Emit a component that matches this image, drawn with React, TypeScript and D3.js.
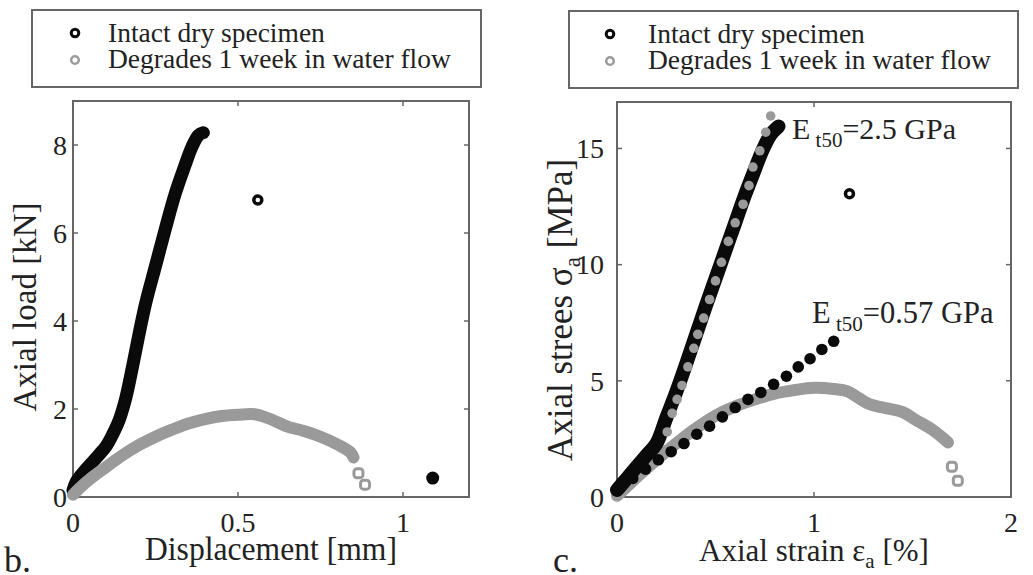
import React from 'react';
import * as d3 from 'd3';

// ---------- Data ----------
// Panel b: Displacement [mm] vs Axial load [kN]
const bXTicks = [0, 0.5, 1];
const bXTickLabels = ['0', '0.5', '1'];
const bYTicks = [0, 2, 4, 6, 8];
const bYTickLabels = ['0', '2', '4', '6', '8'];

const bIntact: [number, number][] = [
  [0, 0.15], [0.01, 0.35], [0.03, 0.55], [0.05, 0.72], [0.08, 0.97], [0.1, 1.15],
  [0.12, 1.42], [0.14, 1.75], [0.16, 2.25], [0.18, 2.95], [0.2, 3.7], [0.22, 4.4],
  [0.25, 5.25], [0.28, 6.1], [0.31, 6.9], [0.34, 7.55], [0.36, 7.95], [0.38, 8.22], [0.395, 8.28],
];
const bIntactOutlier: [number, number][] = [[0.56, 6.75]];
const bIntactFinal: [number, number][] = [[1.09, 0.43]];

const bDegraded: [number, number][] = [
  [0, 0.05], [0.02, 0.2], [0.05, 0.4], [0.1, 0.68], [0.15, 0.95], [0.2, 1.18],
  [0.25, 1.37], [0.3, 1.53], [0.35, 1.67], [0.4, 1.77], [0.45, 1.84], [0.5, 1.87],
  [0.55, 1.88], [0.58, 1.82], [0.62, 1.7], [0.65, 1.6], [0.7, 1.5], [0.75, 1.37],
  [0.8, 1.2], [0.84, 1.02], [0.85, 0.9],
];
const bDegradedTail: [number, number][] = [[0.865, 0.54], [0.885, 0.28]];

// Panel c: Axial strain [%] vs Axial stress [MPa]
const cXTicks = [0, 1, 2];
const cXTickLabels = ['0', '1', '2'];
const cYTicks = [0, 5, 10, 15];
const cYTickLabels = ['0', '5', '10', '15'];

const cIntact: [number, number][] = [
  [0, 0.3], [0.05, 0.8], [0.1, 1.3], [0.15, 1.8], [0.2, 2.3], [0.25, 3.4],
  [0.3, 4.5], [0.35, 5.7], [0.4, 6.95], [0.45, 8.2], [0.5, 9.4], [0.55, 10.6],
  [0.6, 11.8], [0.65, 13.0], [0.7, 14.1], [0.74, 14.95], [0.78, 15.6], [0.82, 15.95],
];
const cIntactSamples: [number, number][] = [
  [0.255, 2.8], [0.28, 3.6], [0.305, 4.2], [0.33, 4.8], [0.36, 5.6], [0.39, 6.4],
  [0.41, 7.0], [0.44, 7.7], [0.47, 8.5], [0.5, 9.3], [0.53, 10.1], [0.565, 11.0],
  [0.6, 11.8], [0.64, 12.6], [0.67, 13.4], [0.69, 14.2], [0.725, 14.9], [0.755, 15.7], [0.78, 16.4],
];
const cIntactOutlier: [number, number][] = [[1.18, 13.05]];

const cDegraded: [number, number][] = [
  [0, 0.05], [0.05, 0.45], [0.1, 0.85], [0.2, 1.6], [0.3, 2.3], [0.4, 2.95],
  [0.5, 3.5], [0.6, 3.9], [0.7, 4.2], [0.8, 4.45], [0.9, 4.6], [1.0, 4.7],
  [1.1, 4.65], [1.17, 4.55], [1.22, 4.3], [1.28, 4.0], [1.35, 3.85], [1.45, 3.65],
  [1.52, 3.3], [1.6, 2.9], [1.66, 2.5], [1.68, 2.35],
];
const cDegradedSamples: [number, number][] = [
  [0.015, 0.4], [0.08, 0.8], [0.145, 1.2], [0.21, 1.6], [0.275, 1.95], [0.34, 2.3],
  [0.405, 2.7], [0.47, 3.05], [0.535, 3.45], [0.6, 3.85], [0.665, 4.2], [0.73, 4.5],
  [0.795, 4.85], [0.86, 5.2], [0.92, 5.6], [0.98, 5.95], [1.04, 6.35], [1.1, 6.7],
];
const cDegradedTail: [number, number][] = [[1.7, 1.3], [1.73, 0.7]];

const legendLabels = ['Intact dry specimen', 'Degrades 1 week in water flow'];

// ---------- Style ----------
const FONT = 'Liberation Serif, Times New Roman, Times, serif';
const BLACK = '#0a0a0a';
const GREY = '#9a9a9a';
const FRAME = '#666';
const TEXT = '#222';

type Scale = d3.ScaleLinear<number, number>;

function Frame({ x, y, xTicks, yTicks, xLabels, yLabels, yLabelX, xLabelY }: {
  x: Scale; y: Scale; xTicks: number[]; yTicks: number[]; xLabels: string[]; yLabels: string[];
  yLabelX: number; xLabelY: number;
}) {
  const [x0, x1] = x.range();
  const [y0, y1] = y.range();
  const tl = 5;
  return (
    <g>
      <rect x={x0} y={y1} width={x1 - x0} height={y0 - y1} fill="none" stroke={FRAME} strokeWidth={2} />
      {xTicks.map((t, i) => (
        <g key={'xt' + i}>
          <line x1={x(t)} x2={x(t)} y1={y0} y2={y0 - tl} stroke={FRAME} strokeWidth={1.5} />
          <line x1={x(t)} x2={x(t)} y1={y1} y2={y1 + tl} stroke={FRAME} strokeWidth={1.5} />
          <text x={x(t)} y={xLabelY} textAnchor="middle" fontSize={28} fontFamily={FONT} fill={TEXT}>{xLabels[i]}</text>
        </g>
      ))}
      {yTicks.map((t, i) => (
        <g key={'yt' + i}>
          <line x1={x0} x2={x0 + tl} y1={y(t)} y2={y(t)} stroke={FRAME} strokeWidth={1.5} />
          <line x1={x1} x2={x1 - tl} y1={y(t)} y2={y(t)} stroke={FRAME} strokeWidth={1.5} />
          <text x={yLabelX} y={y(t)} dy="0.35em" textAnchor="end" fontSize={28} fontFamily={FONT} fill={TEXT}>{yLabels[i]}</text>
        </g>
      ))}
    </g>
  );
}

function Band({ data, x, y, color, width }: { data: [number, number][]; x: Scale; y: Scale; color: string; width: number }) {
  const line = d3.line<[number, number]>().x(d => x(d[0])).y(d => y(d[1])).curve(d3.curveCatmullRom.alpha(0.5));
  return <path d={line(data) || ''} fill="none" stroke={color} strokeWidth={width} strokeLinecap="round" strokeLinejoin="round" />;
}

function Legend({ x, y, w, h, markerX, textX }: { x: number; y: number; w: number; h: number; markerX: number; textX: number }) {
  return (
    <g>
      <rect x={x} y={y} width={w} height={h} fill="#fff" stroke={FRAME} strokeWidth={2} />
      <circle cx={markerX} cy={y + 23} r={3.8} fill="#fff" stroke={BLACK} strokeWidth={3} />
      <circle cx={markerX} cy={y + 50} r={3.8} fill="#fff" stroke={GREY} strokeWidth={2.5} />
      <text x={textX} y={y + 32} fontSize={27.5} fontFamily={FONT} fill={TEXT}>{legendLabels[0]}</text>
      <text x={textX} y={y + 58} fontSize={27.5} fontFamily={FONT} fill={TEXT}>{legendLabels[1]}</text>
    </g>
  );
}

export default function App() {
  const bx = d3.scaleLinear().domain([0, 1.2]).range([73, 469]);
  const by = d3.scaleLinear().domain([0, 9]).range([497, 101]);
  const cx = d3.scaleLinear().domain([0, 2]).range([617, 1011]);
  const cy = d3.scaleLinear().domain([0, 17]).range([497, 102]);

  return (
    <svg width={1033} height={575} style={{ position: 'absolute', left: 0, top: 0, background: '#fff' }}>
      <rect width={1033} height={575} fill="#fff" />
      {/* Legends */}
      <Legend x={32} y={10} w={449} h={77} markerX={75} textX={108} />
      <Legend x={569} y={11} w={449} h={77} markerX={610} textX={648} />

      {/* Panel b */}
      <Frame x={bx} y={by} xTicks={bXTicks} yTicks={bYTicks} xLabels={bXTickLabels} yLabels={bYTickLabels} yLabelX={67} xLabelY={532} />
      <Band data={bIntact} x={bx} y={by} color={BLACK} width={13} />
      <Band data={bDegraded} x={bx} y={by} color={GREY} width={12} />
      {bIntactOutlier.map((d, i) => (
        <circle key={'bo' + i} cx={bx(d[0])} cy={by(d[1])} r={4} fill="#fff" stroke={BLACK} strokeWidth={3.5} />
      ))}
      {bIntactFinal.map((d, i) => (
        <circle key={'bf' + i} cx={bx(d[0])} cy={by(d[1])} r={6.5} fill={BLACK} />
      ))}
      {bDegradedTail.map((d, i) => (
        <rect key={'bt' + i} x={bx(d[0]) - 4.5} y={by(d[1]) - 4.5} width={9} height={9} rx={3} fill="#fff" stroke={GREY} strokeWidth={3} />
      ))}
      <text transform="translate(36,307) rotate(-90)" textAnchor="middle" fontSize={33} fontFamily={FONT} fill={TEXT}>Axial load [kN]</text>
      <text x={271} y={560} textAnchor="middle" fontSize={33} fontFamily={FONT} fill={TEXT} textLength={252} lengthAdjust="spacingAndGlyphs">Displacement [mm]</text>
      <text x={4} y={572} fontSize={36} fontFamily={FONT} fill={TEXT}>b.</text>

      {/* Panel c */}
      <Frame x={cx} y={cy} xTicks={cXTicks} yTicks={cYTicks} xLabels={cXTickLabels} yLabels={cYTickLabels} yLabelX={604} xLabelY={532} />
      <Band data={cDegraded} x={cx} y={cy} color={GREY} width={12} />
      <Band data={cIntact} x={cx} y={cy} color={BLACK} width={14} />
      {cIntactSamples.map((d, i) => (
        <circle key={'cs' + i} cx={cx(d[0])} cy={cy(d[1])} r={4.8} fill={GREY} />
      ))}
      {cDegradedSamples.map((d, i) => (
        <circle key={'cd' + i} cx={cx(d[0])} cy={cy(d[1])} r={5.8} fill={BLACK} />
      ))}
      {cIntactOutlier.map((d, i) => (
        <circle key={'co' + i} cx={cx(d[0])} cy={cy(d[1])} r={4} fill="#fff" stroke={BLACK} strokeWidth={3.5} />
      ))}
      {cDegradedTail.map((d, i) => (
        <rect key={'ct' + i} x={cx(d[0]) - 4.5} y={cy(d[1]) - 4.5} width={9} height={9} rx={3} fill="#fff" stroke={GREY} strokeWidth={3} />
      ))}
      <text x={792} y={139} fontSize={30} fontFamily={FONT} fill={TEXT}>
        E<tspan fontSize={21} dy={8}> t50</tspan><tspan dy={-8}>=2.5 GPa</tspan>
      </text>
      <text x={812} y={323} fontSize={30.5} fontFamily={FONT} fill={TEXT}>
        E<tspan fontSize={21} dy={8}> t50</tspan><tspan dy={-8}>=0.57 GPa</tspan>
      </text>
      <text transform="translate(572,310) rotate(-90)" textAnchor="middle" fontSize={35} fontFamily={FONT} fill={TEXT}>
        Axial strees σ<tspan fontSize={23} dy={8}>a</tspan><tspan dy={-8}> [MPa]</tspan>
      </text>
      <text x={814} y={561} textAnchor="middle" fontSize={31} fontFamily={FONT} fill={TEXT}>
        Axial strain ε<tspan fontSize={21} dy={7}>a</tspan><tspan dy={-7}> [%]</tspan>
      </text>
      <text x={553} y={572} fontSize={36} fontFamily={FONT} fill={TEXT}>c.</text>
    </svg>
  );
}
